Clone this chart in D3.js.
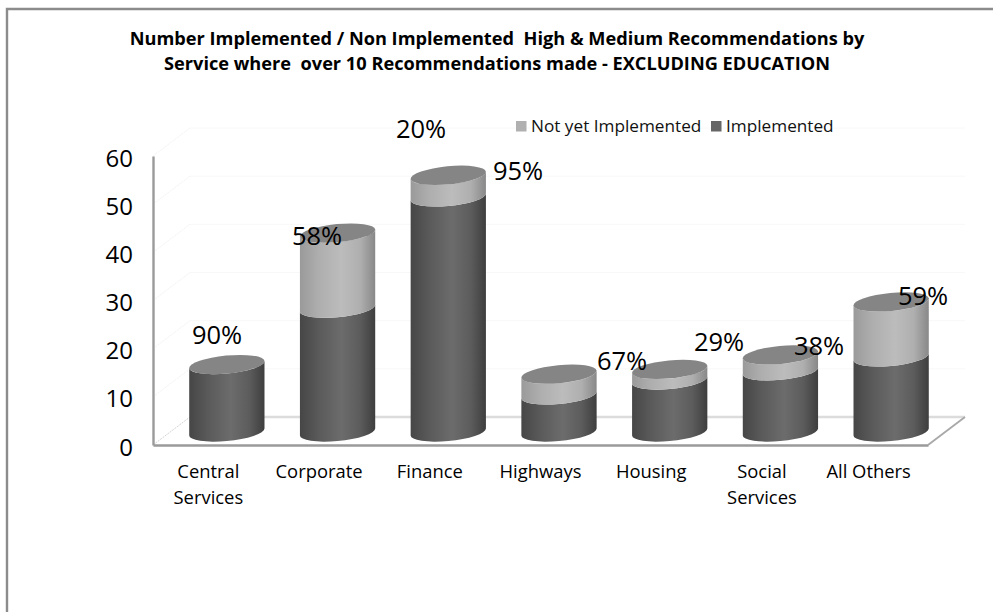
<!DOCTYPE html>
<html>
<head>
<meta charset="utf-8">
<script src="https://cdn.jsdelivr.net/npm/d3@7/dist/d3.min.js"></script>
<style>
  html, body { margin: 0; padding: 0; background: #fff; }
  svg { display: block; font-family: "Open Sans", Lato, sans-serif; }
</style>
</head>
<body>
<svg id="chart" width="993" height="612"></svg>
<script>
// Chart values
const categories = ["Central Services", "Corporate", "Finance", "Highways", "Housing", "Social Services", "All Others"];
const implemented = [14, 25.7, 48.8, 7.7, 10.8, 12.7, 15.6];
const notImplemented = [0, 15.6, 4.5, 4.3, 2.2, 3.3, 11.4];
const yTicks = [0, 10, 20, 30, 40, 50, 60];
const percentLabels = ["90%", "58%", "20%", "95%", "67%", "29%", "38%", "59%"];
const titleLines = [
  "Number Implemented / Non Implemented  High & Medium Recommendations by",
  "Service where  over 10 Recommendations made - EXCLUDING EDUCATION"
];

// Layout
const plot = { left: 153, right: 928, top: 156, bottom: 445 };
const depth = { x: 37, y: 28 };          // offset of the back wall
const mid = { x: 18.5, y: 13 };          // cylinders stand halfway into the floor
const cyl = { rx: 37.8, ry: 9, tilt: 5.5 };
// Where each percentage sits: centre x, centre y
const percentAnchors = [[217, 335], [317, 236], [421, 129], [518, 171], [622, 361], [719, 342], [819, 346], [923, 296]];

const svg = d3.select("#chart");
const x = d3.scaleBand().domain(categories).range([plot.left, plot.right]);
const y = d3.scaleLinear().domain([0, 60]).range([plot.bottom, plot.top]);

// Outer frame: only the top and left edges fall inside the page
svg.append("path").attr("d", "M7,612V9H993").attr("fill", "none").attr("stroke", "#8c8c8c").attr("stroke-width", 2.4);

// Title
svg.append("g").selectAll("text").data(titleLines).join("text")
  .attr("x", 497).attr("y", (d, i) => 45 + i * 25.3)
  .attr("text-anchor", "middle").attr("font-weight", 700).attr("font-size", 18.2).attr("fill", "#000")
  .attr("xml:space", "preserve").style("white-space", "pre")
  .text(d => d);

// Faint gridlines on the back wall and the side wall
const walls = svg.append("g");
walls.selectAll("line.grid").data(yTicks.slice(1)).join("line").attr("class", "grid")
  .attr("x1", plot.left + depth.x).attr("x2", plot.right + depth.x)
  .attr("y1", d => y(d) - depth.y).attr("y2", d => y(d) - depth.y)
  .attr("stroke", "#f8f8f8").attr("stroke-width", 1);
walls.selectAll("line.side").data(yTicks).join("line").attr("class", "side")
  .attr("x1", plot.left).attr("x2", plot.left + depth.x)
  .attr("y1", d => y(d)).attr("y2", d => y(d) - depth.y)
  .attr("stroke", d => d === 0 ? "#d4d4d4" : "#f3f3f3").attr("stroke-width", 1)
  .attr("stroke-dasharray", "2 1");

// Floor edges
walls.append("line")
  .attr("x1", plot.left + depth.x).attr("x2", plot.right + depth.x)
  .attr("y1", y(0) - depth.y).attr("y2", y(0) - depth.y)
  .attr("stroke", "#dcdcdc").attr("stroke-width", 2.5);
walls.append("line")
  .attr("x1", plot.right).attr("x2", plot.right + depth.x)
  .attr("y1", y(0)).attr("y2", y(0) - depth.y)
  .attr("stroke", "#a8a8a8").attr("stroke-width", 1.8);

// Axes
const axisY = svg.append("g").attr("transform", `translate(${plot.left},0)`)
  .call(d3.axisLeft(y).tickValues(yTicks).tickSize(0).tickPadding(20));
axisY.select(".domain").attr("stroke", "#9a9a9a").attr("stroke-width", 2.4);
axisY.selectAll("text").attr("font-size", 24).attr("font-family", "'Open Sans', sans-serif").attr("fill", "#000").attr("dy", "0.42em");

const axisX = svg.append("g").attr("transform", `translate(0,${plot.bottom})`)
  .call(d3.axisBottom(x).tickSize(0).tickFormat(""));
axisX.select(".domain").attr("stroke", "#9a9a9a").attr("stroke-width", 2.4);
axisX.selectAll(".tick text").each(function (d) {
  const lines = d === "All Others" ? [d] : d.split(" ");
  const sel = d3.select(this).attr("y", 0).attr("dy", 0).attr("font-size", 18.4)
    .attr("font-family", "'Open Sans', sans-serif").attr("fill", "#000");
  lines.forEach((w, i) => sel.append("tspan").attr("x", d === "All Others" ? -4 : 0).attr("y", 33 + i * 26).text(w));
});

// Horizontal shading across each cylinder
const defs = svg.append("defs");
const shade = (id, stops) => {
  const g = defs.append("linearGradient").attr("id", id);
  stops.forEach(([o, c]) => g.append("stop").attr("offset", o).attr("stop-color", c));
};
shade("shadeDark", [[0, "#464646"], [0.25, "#5a5a5a"], [0.55, "#6c6c6c"], [0.8, "#5c5c5c"], [1, "#3e3e3e"]]);
shade("shadeLight", [[0, "#9a9a9a"], [0.25, "#aeaeae"], [0.55, "#bcbcbc"], [0.8, "#afafaf"], [1, "#888888"]]);

// Cylinder geometry: a tilted ellipse and the points where the sides touch it
const th = cyl.tilt * Math.PI / 180;
const sn = Math.sin(th), cs = Math.cos(th);
const edgeX = Math.sqrt(cyl.rx ** 2 * cs ** 2 + cyl.ry ** 2 * sn ** 2);
const edgeY = (cyl.rx ** 2 - cyl.ry ** 2) * sn * cs / edgeX;
const arc = (px, py, sweep) => `A${cyl.rx},${cyl.ry} ${-cyl.tilt} 0 ${sweep} ${px},${py}`;
const bodyPath = (cx, y0, y1) =>
  `M${cx - edgeX},${y0 + edgeY}` + arc(cx + edgeX, y0 - edgeY, 0) +
  `L${cx + edgeX},${y1 - edgeY}` + arc(cx - edgeX, y1 + edgeY, 1) + "Z";
const barY = v => y(v) - mid.y;
const barX = c => x(c) + x.bandwidth() / 2 + mid.x;

const bars = svg.append("g").selectAll("g").data(categories).join("g");
bars.append("path")
  .attr("d", (c, i) => bodyPath(barX(c), barY(0), barY(implemented[i])))
  .attr("fill", "url(#shadeDark)");
bars.filter(c => notImplemented[categories.indexOf(c)] > 0).append("path")
  .attr("d", c => {
    const i = categories.indexOf(c);
    return bodyPath(barX(c), barY(implemented[i]), barY(implemented[i] + notImplemented[i]));
  })
  .attr("fill", "url(#shadeLight)");
bars.append("ellipse")
  .attr("rx", cyl.rx).attr("ry", cyl.ry)
  .attr("transform", (c, i) => `translate(${barX(c)},${barY(implemented[i] + notImplemented[i])}) rotate(${-cyl.tilt})`)
  .attr("fill", "#858585");

// Percentage labels
svg.append("g").selectAll("text").data(percentLabels).join("text")
  .attr("x", (d, i) => percentAnchors[i][0]).attr("y", (d, i) => percentAnchors[i][1])
  .attr("dy", "0.36em").attr("text-anchor", "middle").attr("font-size", 25.5).attr("fill", "#000")
  .text(d => d);

// Legend
const legendItems = [
  { label: "Not yet Implemented", color: "#b0b0b0", sx: 516 },
  { label: "Implemented", color: "#666666", sx: 711 }
];
const legend = svg.append("g").selectAll("g").data(legendItems).join("g");
legend.append("rect").attr("x", d => d.sx).attr("y", 121).attr("width", 10.5).attr("height", 10.5).attr("fill", d => d.color);
legend.append("text").attr("x", d => d.sx + 15).attr("y", 132).attr("font-size", 17.2).attr("fill", "#111").text(d => d.label);
</script>
</body>
</html>
